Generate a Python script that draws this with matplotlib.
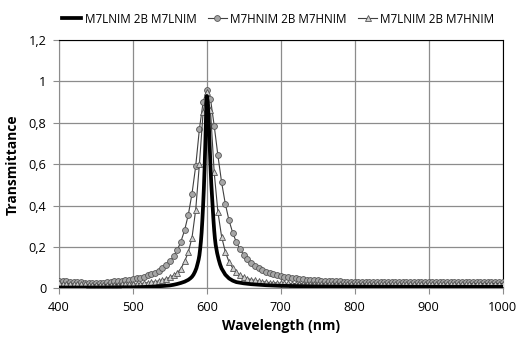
import numpy as np
import matplotlib
matplotlib.use("Agg")
import matplotlib.pyplot as plt
from matplotlib.ticker import FuncFormatter

plt.rcParams['font.family'] = ['Open Sans', 'DejaVu Sans']

# wavelength grid of the two marker series (nm)
wavelength = np.arange(400, 1001, 5)

# M7HNIM 2B M7HNIM (circles)
hnim_hnim = [
    0.035, 0.034, 0.033, 0.032, 0.031, 0.030, 0.029, 0.028, 0.028, 0.027,
    0.027, 0.027, 0.028, 0.029, 0.031, 0.033, 0.035, 0.037, 0.039, 0.042,
    0.045, 0.048, 0.052, 0.057, 0.062, 0.069, 0.076, 0.086, 0.098, 0.112,
    0.130, 0.154, 0.185, 0.226, 0.281, 0.356, 0.458, 0.591, 0.770, 0.900,
    0.960,
    0.915, 0.786, 0.643, 0.513, 0.409, 0.329, 0.269, 0.223, 0.188, 0.161,
    0.140, 0.123, 0.109, 0.098, 0.088, 0.081, 0.074, 0.068, 0.064, 0.060,
    0.056, 0.053, 0.050, 0.048, 0.046, 0.044, 0.042, 0.041, 0.039, 0.038,
    0.037, 0.036, 0.035, 0.034, 0.034, 0.033, 0.032, 0.032, 0.031, 0.031,
    0.031, 0.030, 0.030, 0.030, 0.030, 0.030, 0.030, 0.030, 0.030, 0.030,
    0.030, 0.030, 0.030, 0.030, 0.030, 0.030, 0.030, 0.030, 0.030, 0.030,
    0.030, 0.030, 0.030, 0.030, 0.030, 0.030, 0.030, 0.030, 0.030, 0.030,
    0.031, 0.032, 0.032, 0.032, 0.032, 0.032, 0.032, 0.032, 0.032, 0.032,
]

# M7LNIM 2B M7HNIM (triangles)
lnim_hnim = [
    0.024, 0.023, 0.022, 0.021, 0.021, 0.020, 0.019, 0.019, 0.018, 0.018,
    0.017, 0.017, 0.017, 0.017, 0.017, 0.018, 0.018, 0.019, 0.019, 0.020,
    0.021, 0.021, 0.023, 0.025, 0.027, 0.029, 0.032, 0.036, 0.040, 0.046,
    0.053, 0.062, 0.075, 0.095, 0.130, 0.175, 0.245, 0.380, 0.600, 0.850,
    0.950,
    0.860, 0.560, 0.370, 0.250, 0.177, 0.128, 0.098, 0.078, 0.064, 0.054,
    0.047, 0.042, 0.038, 0.035, 0.032, 0.030, 0.028, 0.027, 0.026, 0.025,
    0.024, 0.024, 0.023, 0.023, 0.023, 0.022, 0.022, 0.022, 0.022, 0.021,
    0.021, 0.021, 0.021, 0.021, 0.021, 0.021, 0.021, 0.021, 0.021, 0.021,
    0.021, 0.021, 0.021, 0.020, 0.020, 0.020, 0.020, 0.020, 0.020, 0.020,
    0.020, 0.020, 0.020, 0.020, 0.020, 0.020, 0.020, 0.020, 0.020, 0.020,
    0.020, 0.020, 0.020, 0.020, 0.020, 0.020, 0.020, 0.020, 0.020, 0.020,
    0.022, 0.022, 0.023, 0.023, 0.023, 0.023, 0.023, 0.023, 0.023, 0.023,
]

# M7LNIM 2B M7LNIM (thick line, finer sampling near the peak)
lnim_wl = [400, 420, 440, 460, 480, 500, 510, 520, 530, 540, 550, 555, 560,
           565, 570, 575, 578, 580, 582, 584, 586, 588, 589, 590, 591, 592,
           593, 594, 595, 596, 597, 598, 599, 600, 601, 602, 603, 604, 605,
           606, 607, 608, 609, 610, 611, 612, 614, 616, 618, 620, 625, 630,
           635, 640, 650, 660, 680, 700, 750, 800, 900, 1000]
lnim_lnim = [0.004, 0.004, 0.004, 0.004, 0.005, 0.005, 0.006, 0.007, 0.009,
             0.011, 0.014, 0.017, 0.021, 0.026, 0.032, 0.041, 0.049, 0.056,
             0.066, 0.080, 0.098, 0.125, 0.140, 0.160, 0.190, 0.225, 0.270,
             0.330, 0.400, 0.480, 0.580, 0.700, 0.840, 0.930, 0.910, 0.850,
             0.770, 0.680, 0.590, 0.510, 0.450, 0.390, 0.330, 0.280, 0.240,
             0.210, 0.170, 0.140, 0.115, 0.096, 0.066, 0.048, 0.037, 0.030,
             0.024, 0.020, 0.015, 0.012, 0.009, 0.008, 0.007, 0.007]

x_ticks = [400, 500, 600, 700, 800, 900, 1000]
y_ticks = [0, 0.2, 0.4, 0.6, 0.8, 1.0, 1.2]

fig = plt.figure(figsize=(5.17, 3.37), dpi=100)
ax = fig.add_axes([0.114, 0.1445, 0.858, 0.7365])

grid_c = '#8c8c8c'
ax.plot(wavelength, hnim_hnim, color='#404040', lw=0.8, marker='o', ms=4.2,
        mfc='#a6a6a6', mec='#555555', mew=0.6, label='M7HNIM 2B M7HNIM', zorder=3)
ax.plot(wavelength, lnim_hnim, color='#404040', lw=0.8, marker='^', ms=4.2,
        mfc='#d0d0d0', mec='#555555', mew=0.6, label='M7LNIM 2B M7HNIM', zorder=4)
ax.plot(lnim_wl, lnim_lnim, color='black', lw=2.7, label='M7LNIM 2B M7LNIM', zorder=5)

ax.set_xlim(400, 1000)
ax.set_ylim(0, 1.2)
ax.set_xticks(x_ticks)
ax.set_yticks(y_ticks)
ax.yaxis.set_major_formatter(FuncFormatter(lambda v, p: ('%g' % round(v, 1)).replace('.', ',')))
ax.grid(True, color=grid_c, lw=0.9)
ax.set_axisbelow(True)
ax.tick_params(direction='out', length=4, color=grid_c, labelsize=9.2, pad=5)

for s in ['left', 'bottom']:
    ax.spines[s].set_color(grid_c)
for s in ['top', 'right']:
    ax.spines[s].set_color('black')

ax.set_xlabel('Wavelength (nm)', fontsize=10, fontweight='bold', labelpad=4)
ax.set_ylabel('Transmittance', fontsize=10, fontweight='bold', labelpad=6)

h, l = ax.get_legend_handles_labels()
order = [2, 0, 1]
ax.legend([h[i] for i in order], [l[i] for i in order], loc='lower center',
          bbox_to_anchor=(0.495, 1.04), ncol=3, frameon=False, fontsize=8.4,
          handlelength=1.6, handletextpad=0.3, columnspacing=1.0, borderaxespad=0)

fig.savefig('out.png', dpi=100)
